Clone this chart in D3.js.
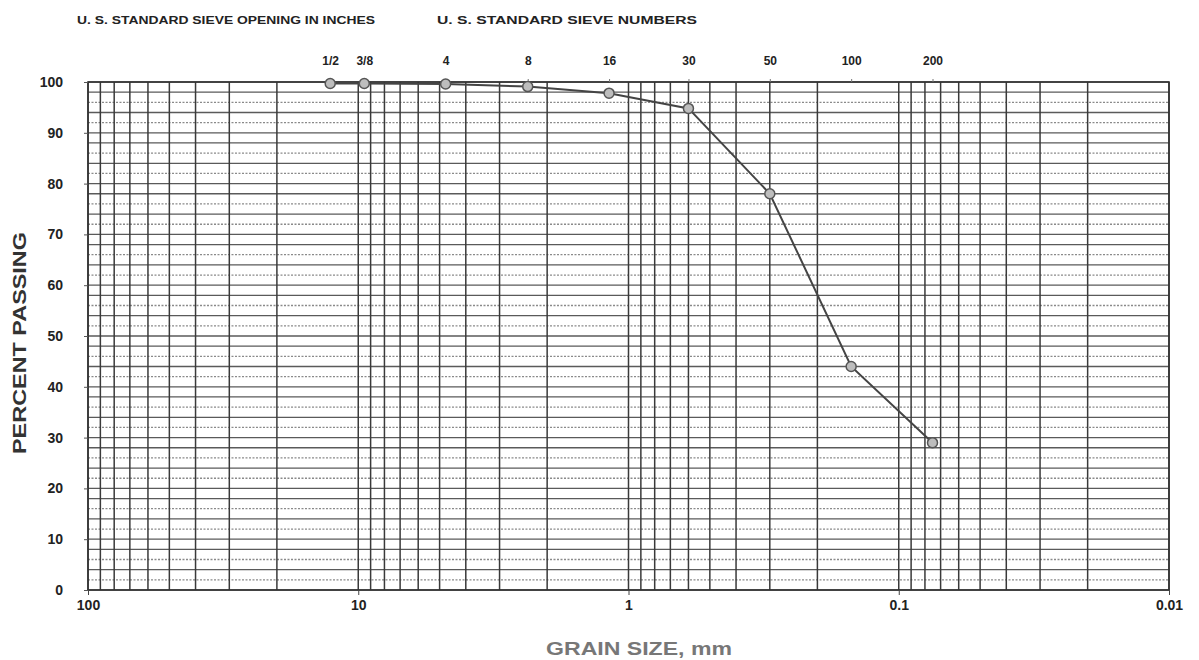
<!DOCTYPE html>
<html><head><meta charset="utf-8">
<script src="https://cdn.jsdelivr.net/npm/d3@7"></script>
<style>
html,body{margin:0;padding:0;background:#fff;}
text{font-family:"Liberation Sans",Arial,sans-serif;font-weight:bold;}
</style></head>
<body>
<svg id="chart" width="1199" height="660"></svg>
<script>
// ---- data ----
const sieveLabels = ["1/2","3/8","4","8","16","30","50","100","200"];
const sieveSizes = [12.7, 9.5, 4.75, 2.36, 1.18, 0.6, 0.3, 0.15, 0.075];
const percentPassing = [99.7, 99.7, 99.6, 99.1, 97.8, 94.8, 78.0, 44.0, 29.0];
const xTickValues = [100, 10, 1, 0.1, 0.01];
const xTickLabels = ["100", "10", "1", "0.1", "0.01"];
const yTickValues = [0,10,20,30,40,50,60,70,80,90,100];
const headerLabels = ["U. S. STANDARD SIEVE OPENING IN INCHES", "U. S. STANDARD SIEVE NUMBERS"];
const xTitle = "GRAIN SIZE, mm";
const yTitle = "PERCENT PASSING";

const svg = d3.select("#chart");
const x = d3.scaleLog().domain([100, 0.01]).range([88, 1169]);
const y = d3.scaleLinear().domain([0, 100]).range([590, 82]);

// horizontal grid every 2 units
const hVals = d3.range(0, 101, 2);
const isDotted = d => (d % 10 === 2 || d % 10 === 6);
svg.append("g").selectAll("line").data(hVals).join("line")
  .attr("x1", x(100)).attr("x2", x(0.01))
  .attr("y1", d => y(d)).attr("y2", d => y(d))
  .attr("stroke", d => isDotted(d) ? "#8a8a8a" : "#5a5a5a")
  .attr("stroke-width", d => isDotted(d) ? 1.3 : 1.3)
  .attr("stroke-dasharray", d => isDotted(d) ? "2,1.5" : null);

// vertical log grid
const vVals = x.ticks();
svg.append("g").selectAll("line").data(vVals).join("line")
  .attr("x1", d => x(d)).attr("x2", d => x(d))
  .attr("y1", y(0)).attr("y2", y(100))
  .attr("stroke", "#3a3a3a").attr("stroke-width", 1.5);

// frame
svg.append("rect").attr("x", x(100)).attr("y", y(100))
  .attr("width", x(0.01) - x(100)).attr("height", y(0) - y(100))
  .attr("fill", "none").attr("stroke", "#333").attr("stroke-width", 1.6);

// y axis
const yAxis = d3.axisLeft(y).tickValues(yTickValues).tickSize(4).tickPadding(21);
const gy = svg.append("g").attr("transform", `translate(${x(100)},0)`).call(yAxis);
gy.select(".domain").remove();
gy.selectAll(".tick line").attr("stroke", "#555");
gy.selectAll(".tick text").attr("font-size", 14).attr("fill", "#222")
  .style("font-family", '"Liberation Sans",Arial,sans-serif').style("font-weight", "bold");

// x axis
const xAxis = d3.axisBottom(x).tickValues(xTickValues)
  .tickFormat((d, i) => xTickLabels[i]).tickSize(5).tickPadding(5);
const gx = svg.append("g").attr("transform", `translate(0,${y(0)})`).call(xAxis);
gx.select(".domain").remove();
gx.selectAll(".tick line").attr("stroke", "#444");
gx.selectAll(".tick text").attr("font-size", 14).attr("fill", "#222")
  .style("font-family", '"Liberation Sans",Arial,sans-serif').style("font-weight", "bold");

// top sieve axis
const xTop = d3.axisTop(x).tickValues(sieveSizes)
  .tickFormat((d, i) => sieveLabels[i]).tickSize(3).tickPadding(14);
const gt = svg.append("g").attr("transform", `translate(0,${y(100)})`).call(xTop);
gt.select(".domain").remove();
gt.selectAll(".tick line").attr("stroke", "#777");
gt.selectAll(".tick text").attr("font-size", 12).attr("fill", "#222")
  .style("font-family", '"Liberation Sans",Arial,sans-serif').style("font-weight", "bold");

// headers
svg.append("text").attr("x", 77).attr("y", 24).attr("font-size", 11)
  .attr("fill", "#222").attr("textLength", 298).attr("lengthAdjust", "spacingAndGlyphs")
  .text(headerLabels[0]);
svg.append("text").attr("x", 437).attr("y", 24).attr("font-size", 11)
  .attr("fill", "#222").attr("textLength", 260).attr("lengthAdjust", "spacingAndGlyphs")
  .text(headerLabels[1]);

// titles
svg.append("text").attr("x", 639).attr("y", 655).attr("text-anchor", "middle")
  .attr("font-size", 19).attr("fill", "#777")
  .attr("textLength", 186).attr("lengthAdjust", "spacingAndGlyphs").text(xTitle);
svg.append("text").attr("transform", "translate(26,343) rotate(-90)")
  .attr("text-anchor", "middle").attr("font-size", 19).attr("fill", "#333")
  .attr("textLength", 222).attr("lengthAdjust", "spacingAndGlyphs").text(yTitle);

// data line + markers
const pts = sieveSizes.map((s, i) => [s, percentPassing[i]]);
svg.append("path").datum(pts)
  .attr("d", d3.line().x(d => x(d[0])).y(d => y(d[1])))
  .attr("fill", "none").attr("stroke", "#444").attr("stroke-width", 2);
svg.append("g").selectAll("circle").data(pts).join("circle")
  .attr("cx", d => x(d[0])).attr("cy", d => y(d[1])).attr("r", 5)
  .attr("fill", "#bdbdbd").attr("stroke", "#555").attr("stroke-width", 1.5);
</script>
</body></html>
